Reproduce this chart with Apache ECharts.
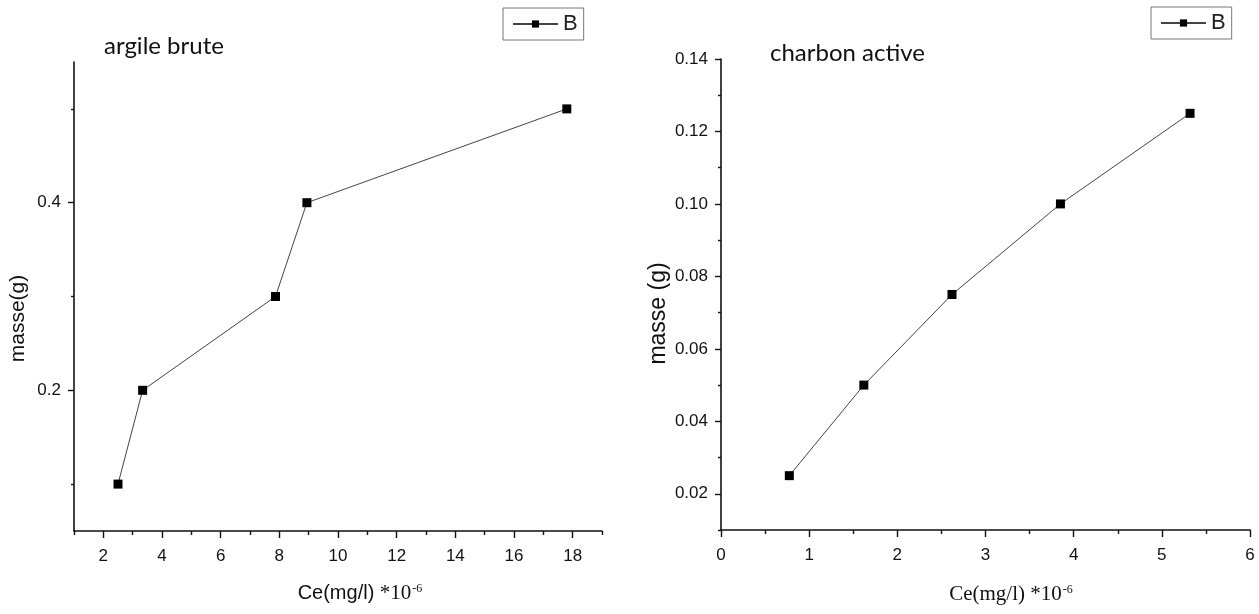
<!DOCTYPE html>
<html>
<head>
<meta charset="utf-8">
<title>masse vs Ce</title>
<script src="https://cdn.jsdelivr.net/npm/echarts@6/dist/echarts.min.js"></script>
<style>
html, body { margin: 0; padding: 0; background: #fff; }
#chart { width: 1259px; height: 614px; }
</style>
</head>
<body>
<div id="chart"></div>
<script>
// argile brute
const argileCe = [2.5, 3.34, 7.87, 8.94, 17.8];
const argileMasse = [0.1, 0.2, 0.3, 0.4, 0.5];
// charbon active
const charbonCe = [0.775, 1.62, 2.62, 3.85, 5.32];
const charbonMasse = [0.025, 0.05, 0.075, 0.1, 0.125];

// graduations
const argileXMajor = [2, 4, 6, 8, 10, 12, 14, 16, 18];
const argileXMinor = [1, 3, 5, 7, 9, 11, 13, 15, 17, 19];
const argileYMajor = [0.2, 0.4];
const argileYMinor = [0.1, 0.3, 0.5];
const charbonXMajor = [0, 1, 2, 3, 4, 5, 6];
const charbonXMinor = [0.5, 1.5, 2.5, 3.5, 4.5, 5.5];
const charbonYMajor = [0.02, 0.04, 0.06, 0.08, 0.10, 0.12, 0.14];
const charbonYMinor = [0.01, 0.03, 0.05, 0.07, 0.09, 0.11, 0.13];

const sansFont = "'Liberation Sans', Arial, sans-serif";
const serifFont = "'Liberation Serif', 'Times New Roman', serif";
const titleFont = "Lato, 'Open Sans', sans-serif";
const axisColor = '#111';

// axe principal (ligne, graduations longues, etiquettes)
const mainAxis = (o) => ({
  type: 'value',
  gridIndex: o.grid,
  min: o.min,
  max: o.max,
  position: o.pos,
  axisLine: { show: true, onZero: false, lineStyle: { color: axisColor, width: 1.6 } },
  axisTick: { show: true, inside: false, length: o.tickLen, customValues: o.major,
              lineStyle: { color: axisColor, width: 1.4 } },
  axisLabel: { show: true, customValues: o.major, margin: o.margin, color: '#111',
               fontFamily: sansFont, fontSize: o.fontSize, formatter: o.fmt },
  splitLine: { show: false },
  name: o.name,
  nameLocation: 'middle',
  nameGap: o.nameGap,
  nameTextStyle: o.nameStyle
});

// axe secondaire (graduations courtes seulement)
const minorAxis = (o) => ({
  type: 'value',
  gridIndex: o.grid,
  min: o.min,
  max: o.max,
  position: o.pos,
  axisLine: { show: false, onZero: false },
  axisTick: { show: true, inside: false, length: o.tickLen, customValues: o.minor,
              lineStyle: { color: axisColor, width: 1.4 } },
  axisLabel: { show: false },
  splitLine: { show: false }
});

const xNameRich = {
  a: { fontFamily: sansFont, fontSize: 20, color: '#111' },
  b: { fontFamily: serifFont, fontSize: 21, color: '#111' },
  c: { fontFamily: serifFont, fontSize: 12, color: '#111', verticalAlign: 'top', padding: [0, 0, 8, 1] }
};

const legendBase = {
  orient: 'horizontal',
  itemWidth: 45,
  itemHeight: 9,
  padding: [5, 6, 5, 9],
  borderColor: '#777',
  borderWidth: 1,
  selectedMode: false,
  textStyle: { fontFamily: sansFont, fontSize: 22, lineHeight: 22, color: '#222' },
  data: ['B']
};

const option = {
  animation: false,
  backgroundColor: '#fff',
  title: [
    { text: 'argile brute', left: 99, top: 29,
      textStyle: { fontFamily: titleFont, fontSize: 24, fontWeight: 'normal', color: '#111' } },
    { text: 'charbon active', left: 765, top: 36,
      textStyle: { fontFamily: titleFont, fontSize: 24, fontWeight: 'normal', color: '#111' } }
  ],
  legend: [
    Object.assign({}, legendBase, { left: 503, top: 8 }),
    Object.assign({}, legendBase, { left: 1151, top: 7 })
  ],
  grid: [
    { left: 74, top: 62, width: 528, height: 469 },
    { left: 721, top: 59, width: 529, height: 471 }
  ],
  xAxis: [
    mainAxis({ grid: 0, min: 1, max: 19, pos: 'bottom', tickLen: 7, major: argileXMajor,
               margin: 17, fontSize: 17, fmt: (v) => String(v),
               name: '{a|Ce(mg/l) }{b|*10}{c|-6}', nameGap: 52,
               nameStyle: { rich: xNameRich, padding: [0, 0, 0, 44] } }),
    minorAxis({ grid: 0, min: 1, max: 19, pos: 'bottom', tickLen: 4, minor: argileXMinor }),
    mainAxis({ grid: 1, min: 0, max: 6, pos: 'bottom', tickLen: 7, major: charbonXMajor,
               margin: 17, fontSize: 17, fmt: (v) => String(v),
               name: '{b|Ce(mg/l) *10}{c|-6}', nameGap: 54,
               nameStyle: { rich: xNameRich, padding: [0, 0, 0, 51] } }),
    minorAxis({ grid: 1, min: 0, max: 6, pos: 'bottom', tickLen: 4, minor: charbonXMinor })
  ],
  yAxis: [
    mainAxis({ grid: 0, min: 0.05, max: 0.55, pos: 'left', tickLen: 6, major: argileYMajor,
               margin: 13, fontSize: 17, fmt: (v) => v.toFixed(1),
               name: 'masse(g)', nameGap: 45,
               nameStyle: { fontFamily: sansFont, fontSize: 21, color: '#111', padding: [0, 44, 0, 0] } }),
    minorAxis({ grid: 0, min: 0.05, max: 0.55, pos: 'left', tickLen: 3, minor: argileYMinor }),
    mainAxis({ grid: 1, min: 0.01, max: 0.14, pos: 'left', tickLen: 6, major: charbonYMajor,
               margin: 13, fontSize: 17, fmt: (v) => v.toFixed(2),
               name: 'masse (g)', nameGap: 51,
               nameStyle: { fontFamily: sansFont, fontSize: 23, color: '#111', padding: [0, 38, 0, 0] } }),
    minorAxis({ grid: 1, min: 0.01, max: 0.14, pos: 'left', tickLen: 3, minor: charbonYMinor })
  ],
  series: [
    {
      name: 'B', type: 'line', xAxisIndex: 0, yAxisIndex: 0,
      data: argileCe.map((x, i) => [x, argileMasse[i]]),
      symbol: 'rect', symbolSize: 9,
      itemStyle: { color: '#000' },
      lineStyle: { color: '#444', width: 1 }
    },
    {
      name: 'B', type: 'line', xAxisIndex: 2, yAxisIndex: 2,
      data: charbonCe.map((x, i) => [x, charbonMasse[i]]),
      symbol: 'rect', symbolSize: 9,
      itemStyle: { color: '#000' },
      lineStyle: { color: '#444', width: 1 }
    }
  ]
};

const chart = echarts.init(document.getElementById('chart'));
chart.setOption(option);
window.addEventListener('resize', () => chart.resize());
</script>
</body>
</html>
